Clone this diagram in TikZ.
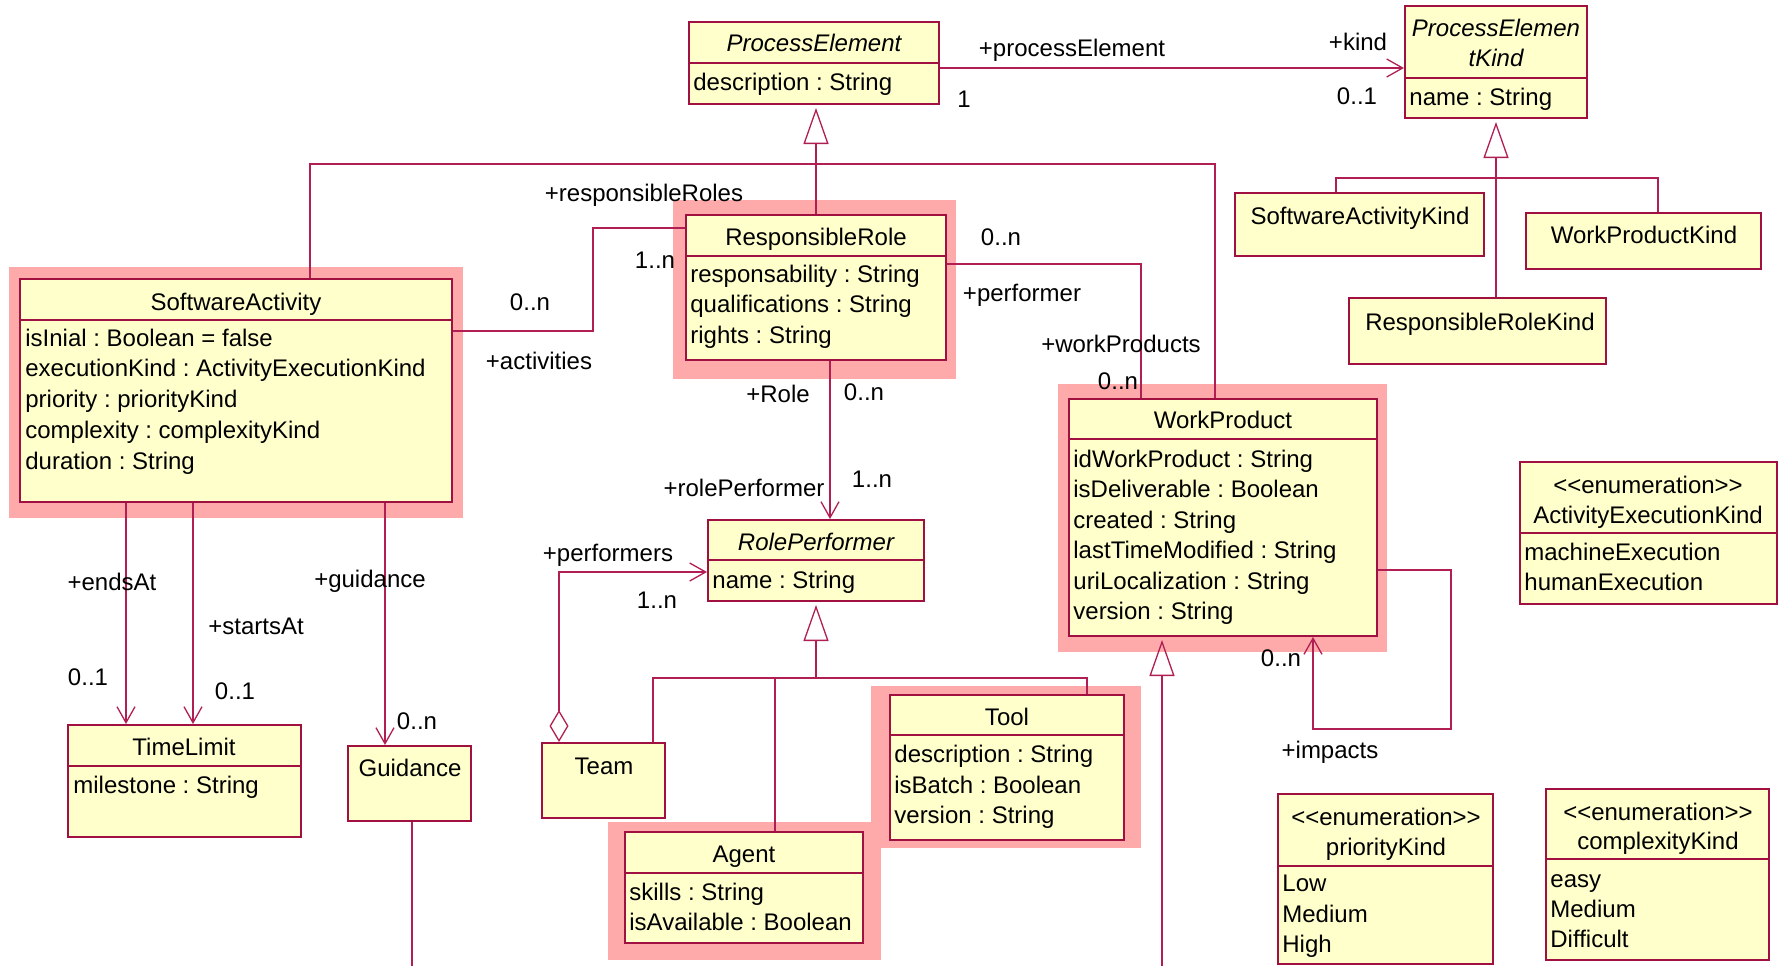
\documentclass[tikz,border=0pt]{standalone}
\usepackage{fontspec}
\setmainfont{Liberation Sans}
\usetikzlibrary{arrows.meta,fit}
\definecolor{umlred}{RGB}{160,16,64}
\definecolor{umlline}{RGB}{176,30,84}
\definecolor{umlfill}{RGB}{255,255,204}
\definecolor{umlpink}{RGB}{255,170,170}
\frenchspacing

\begin{document}
\begin{tikzpicture}[x=0.5pt,y=-0.5pt,font=\fontsize{12}{15}\selectfont,
	cls/.style={draw=umlred,line width=1pt,fill=umlfill,inner sep=0pt},
	hl/.style={fill=umlpink,inner sep=0pt},
	divider/.style={draw=umlred,line width=1pt},
	cname/.style={anchor=base,inner sep=0pt,yshift=-4pt},
	attr/.style={anchor=base west,inner sep=0pt,yshift=-4pt},
	conn/.style={draw=umlline,line width=0.65pt},
	assoc/.style={conn,-{Straight Barb[length=8pt,width=9pt]}},
	gen/.style={conn,shorten >=1.5pt,-{Triangle[open,length=18pt,width=12.5pt]}},
	aggr/.style={conn,{Diamond[open,length=16pt,width=9.5pt]}-{Straight Barb[length=8pt,width=9pt]}}]

	\useasboundingbox (0,0) rectangle (1785,966);

	% highlighted classes
	\node[hl,fit={(9,267) (463,518)}] (sahl) {};
	\node[hl,fit={(673,200) (956,379)}] (rrhl) {};
	\node[hl,fit={(1058,384) (1387,652)}] (wphl) {};
	\node[hl,fit={(608,822) (881,960)}] (aghl) {};
	\node[hl,fit={(871,686) (1141,848)}] (tohl) {};

	% classes
	\node[cls,fit={(689,22) (939,104)}] (pe) {};
	\draw[divider] (pe.west |- 0,63) -- (pe.east |- 0,63);
	\node[cname] (pename) at (814,43) {\itshape ProcessElement};
	\node[attr] (pea1) at (693,82) {description : String};

	\node[cls,fit={(1405,6) (1587,118)}] (pek) {};
	\draw[divider] (pek.west |- 0,78) -- (pek.east |- 0,78);
	\node[cname] (pekname1) at (1496,28) {\itshape ProcessElemen};
	\node[cname] (pekname2) at (1496,58) {\itshape tKind};
	\node[attr] (peka1) at (1409,97) {name : String};

	\node[cls,fit={(20,279) (452,502)}] (sa) {};
	\draw[divider] (sa.west |- 0,320) -- (sa.east |- 0,320);
	\node[cname] (saname) at (236,302) {SoftwareActivity};
	\node[attr] (saa1) at (25,338) {isInial : Boolean = false};
	\node[attr] (saa2) at (25,368) {executionKind : ActivityExecutionKind};
	\node[attr] (saa3) at (25,399) {priority : priorityKind};
	\node[attr] (saa4) at (25,430) {complexity : complexityKind};
	\node[attr] (saa5) at (25,461) {duration : String};

	\node[cls,fit={(686,215) (946,360)}] (rr) {};
	\draw[divider] (rr.west |- 0,256) -- (rr.east |- 0,256);
	\node[cname] (rrname) at (816,237) {ResponsibleRole};
	\node[attr] (rra1) at (690,274) {responsability : String};
	\node[attr] (rra2) at (690,304) {qualifications : String};
	\node[attr] (rra3) at (690,335) {rights : String};

	\node[cls,fit={(1069,399) (1377,636)}] (wp) {};
	\draw[divider] (wp.west |- 0,439) -- (wp.east |- 0,439);
	\node[cname] (wpname) at (1223,420) {WorkProduct};
	\node[attr] (wpa1) at (1073,459) {idWorkProduct : String};
	\node[attr] (wpa2) at (1073,489) {isDeliverable : Boolean};
	\node[attr] (wpa3) at (1073,520) {created : String};
	\node[attr] (wpa4) at (1073,550) {lastTimeModified : String};
	\node[attr] (wpa5) at (1073,581) {uriLocalization : String};
	\node[attr] (wpa6) at (1073,611) {version : String};

	\node[cls,fit={(708,520) (924,601)}] (rp) {};
	\draw[divider] (rp.west |- 0,560) -- (rp.east |- 0,560);
	\node[cname] (rpname) at (816,542) {\itshape RolePerformer};
	\node[attr] (rpa1) at (712,580) {name : String};

	\node[cls,fit={(68,725) (301,837)}] (tl) {};
	\draw[divider] (tl.west |- 0,766) -- (tl.east |- 0,766);
	\node[cname] (tlname) at (184,747) {TimeLimit};
	\node[attr] (tla1) at (73,785) {milestone : String};

	\node[cls,fit={(348,746) (471,821)}] (gd) {};
	\node[cname] (gdname) at (410,768) {Guidance};

	\node[cls,fit={(542,743) (665,818)}] (tm) {};
	\node[cname] (tmname) at (604,766) {Team};

	\node[cls,fit={(625,832) (863,943)}] (ag) {};
	\draw[divider] (ag.west |- 0,873) -- (ag.east |- 0,873);
	\node[cname] (agname) at (744,854) {Agent};
	\node[attr] (aga1) at (629,892) {skills : String};
	\node[attr] (aga2) at (629,922) {isAvailable : Boolean};

	\node[cls,fit={(890,695) (1124,840)}] (to) {};
	\draw[divider] (to.west |- 0,735) -- (to.east |- 0,735);
	\node[cname] (toname) at (1007,717) {Tool};
	\node[attr] (toa1) at (894,754) {description : String};
	\node[attr] (toa2) at (894,785) {isBatch : Boolean};
	\node[attr] (toa3) at (894,815) {version : String};

	\node[cls,fit={(1235,193) (1484,256)}] (sak) {};
	\node[cname] (sakname) at (1360,216) {SoftwareActivityKind};
	\node[cls,fit={(1526,213) (1761,269)}] (wpk) {};
	\node[cname] (wpkname) at (1644,235) {WorkProductKind};
	\node[cls,fit={(1349,298) (1606,364)}] (rrk) {};
	\node[cname] (rrkname) at (1480,322) {ResponsibleRoleKind};

	\node[cls,fit={(1520,462) (1777,604)}] (aek) {};
	\draw[divider] (aek.west |- 0,533) -- (aek.east |- 0,533);
	\node[cname] (aekst) at (1648,485) {{<}{<}enumeration{>}{>}};
	\node[cname] (aekname) at (1648,515) {ActivityExecutionKind};
	\node[attr] (aeka1) at (1524,552) {machineExecution};
	\node[attr] (aeka2) at (1524,582) {humanExecution};

	\node[cls,fit={(1278,794) (1493,964)}] (pk) {};
	\draw[divider] (pk.west |- 0,866) -- (pk.east |- 0,866);
	\node[cname] (pkst) at (1386,817) {{<}{<}enumeration{>}{>}};
	\node[cname] (pkname) at (1386,847) {priorityKind};
	\node[attr] (pka1) at (1282,883) {Low};
	\node[attr] (pka2) at (1282,914) {Medium};
	\node[attr] (pka3) at (1282,944) {High};

	\node[cls,fit={(1546,789) (1769,960)}] (ck) {};
	\draw[divider] (ck.west |- 0,859) -- (ck.east |- 0,859);
	\node[cname] (ckst) at (1658,812) {{<}{<}enumeration{>}{>}};
	\node[cname] (ckname) at (1658,841) {complexityKind};
	\node[attr] (cka1) at (1550,879) {easy};
	\node[attr] (cka2) at (1550,909) {Medium};
	\node[attr] (cka3) at (1550,939) {Difficult};

	% generalizations
	\coordinate (pej1) at (310,164);
	\coordinate (pej2) at (1215,164);
	\draw[gen] (rr.north) -- (rr.north |- pe.south);
	\draw[conn] (sa.north -| pej1) -- (pej1) -- (pej2) -- (wp.north -| pej2);

	\coordinate (pekj1) at (1336,178);
	\coordinate (pekj2) at (1658,178);
	\draw[gen] (rrk.north -| pek.south) -- (pek.south);
	\draw[conn] (sak.north -| pekj1) -- (pekj1) -- (pekj2) -- (wpk.north -| pekj2);

	\coordinate (rpj1) at (653,678);
	\coordinate (rpj2) at (1087,678);
	\draw[gen] (rp.south |- rpj1) -- (rp.south);
	\draw[conn] (tm.north -| rpj1) -- (rpj1) -- (rpj2) -- (to.north -| rpj2);
	\draw[conn] (ag.north -| 775,0) -- (775,678);

	\coordinate (wpsub) at (1162,966);
	\draw[gen] (wpsub) -- (wp.south -| wpsub);

	% associations
	\draw[assoc] (pe.east |- 0,68) -- (pek.west |- 0,68);
	\node[cname] (lpe) at (1072,48) {+processElement};
	\node[cname] (mpe) at (964,99) {1};
	\node[cname] (lkind) at (1358,42) {+kind};
	\node[cname] (mkind) at (1357,96) {0..1};

	\draw[conn] (sa.east |- 0,331) -| (593,228) -- (rr.west |- 0,228);
	\node[cname] (lresp) at (644,193) {+responsibleRoles};
	\node[cname] (mact) at (530,302) {0..n};
	\node[cname] (lact) at (539,361) {+activities};
	\node[cname] (mresp) at (655,260) {1..n};

	\draw[conn] (rr.east |- 0,264) -| (wp.north -| 1141,0);
	\node[cname] (mperf) at (1001,237) {0..n};
	\node[cname] (lperf) at (1022,293) {+performer};
	\node[cname] (lwp) at (1121,344) {+workProducts};
	\node[cname] (mwp) at (1118,381) {0..n};

	\draw[assoc] (rr.south -| 830,0) -- (rp.north -| 830,0);
	\node[cname] (lrole) at (778,394) {+Role};
	\node[cname] (mrole) at (864,392) {0..n};
	\node[cname] (lrp) at (744,488) {+rolePerformer};
	\node[cname] (mrp) at (872,479) {1..n};

	\draw[assoc] (sa.south -| 126,0) -- (tl.north -| 126,0);
	\node[cname] (lends) at (112,582) {+endsAt};
	\node[cname] (mends) at (88,677) {0..1};
	\draw[assoc] (sa.south -| 193,0) -- (tl.north -| 193,0);
	\node[cname] (lstarts) at (256,626) {+startsAt};
	\node[cname] (mstarts) at (235,691) {0..1};
	\draw[assoc] (sa.south -| 385,0) -- (gd.north -| 385,0);
	\node[cname] (lguid) at (370,579) {+guidance};
	\node[cname] (mguid) at (417,721) {0..n};

	\coordinate (gdend) at (412,966);
	\draw[conn] (gd.south -| gdend) -- (gdend);

	\draw[aggr] (tm.north -| 559,0) |- (rp.west |- 0,572);
	\node[cname] (lperfs) at (608,553) {+performers};
	\node[cname] (mperfs) at (657,600) {1..n};

	\draw[assoc] (wp.east |- 0,570) -| (1451,729) -| (wp.south -| 1313,0);
	\node[cname] (mimp) at (1281,658) {0..n};
	\node[cname] (limp) at (1330,750) {+impacts};
\end{tikzpicture}
\end{document}
